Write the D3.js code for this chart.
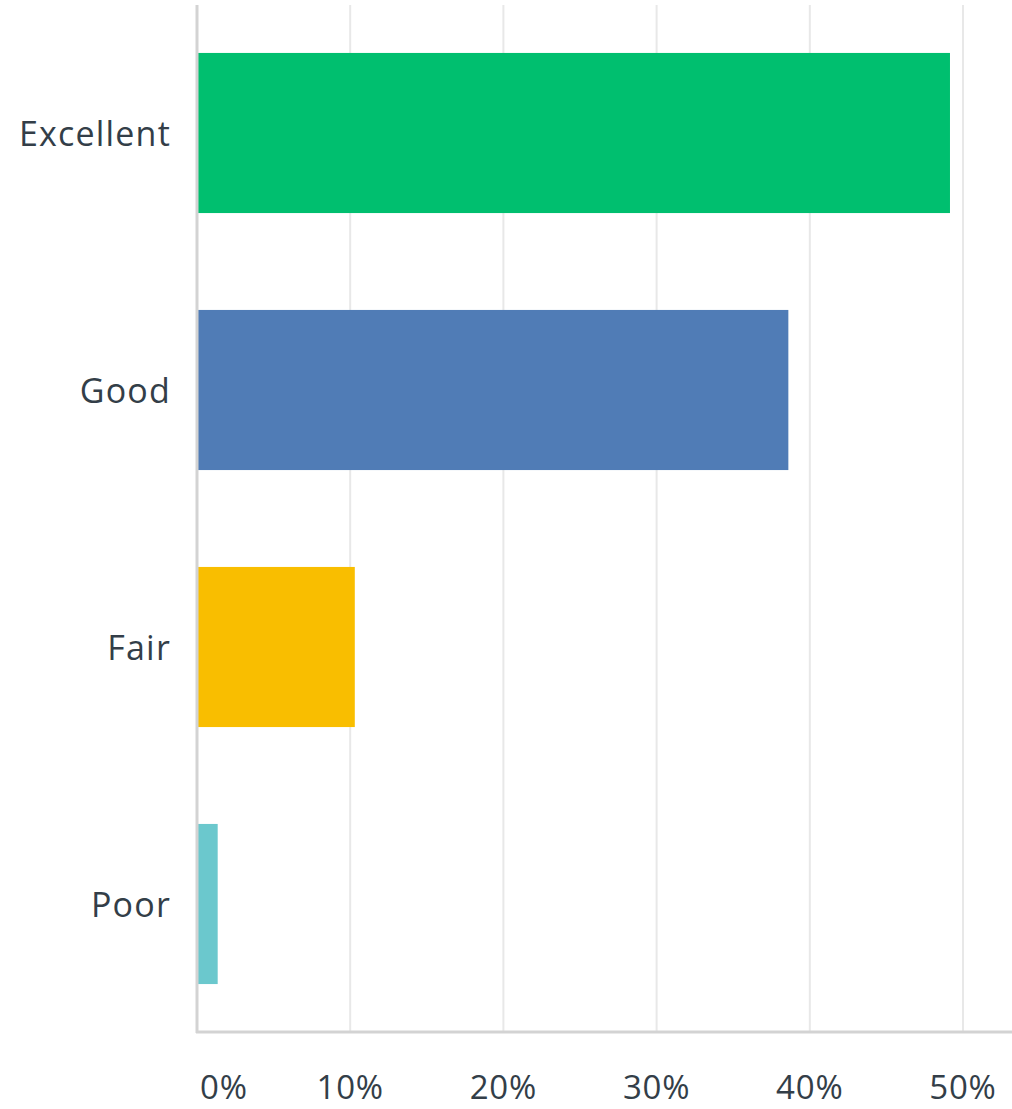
<!DOCTYPE html>
<html><head><meta charset="utf-8">
<script src="https://cdn.jsdelivr.net/npm/d3@7"></script>
<style>body{margin:0;background:#fff;} text{font-family:"Open Sans",sans-serif;fill:#333e48;}</style>
</head><body>
<svg id="c" width="1012" height="1109"></svg>
<script>
const categories = ["Excellent","Good","Fair","Poor"];
const values = [49.15, 38.6, 10.3, 1.35];
const colors = ["#00bf6f","#507cb6","#f9be00","#6bc8cd"];
const tickValues = [0,10,20,30,40,50];
const tickLabels = ["0%","10%","20%","30%","40%","50%"];

const svg = d3.select("#c");
const x = d3.scaleLinear().domain([0,50]).range([197,963]);
const y = d3.scaleBand().domain(categories).range([4.5,1032.5]).paddingInner(0.377).paddingOuter(0.1885);

// grid
svg.append("g").selectAll("line").data(tickValues.slice(1)).join("line")
  .attr("x1",d=>x(d)).attr("x2",d=>x(d)).attr("y1",5).attr("y2",1032)
  .attr("stroke","#e8e8e8").attr("stroke-width",2);

// bars
svg.append("g").selectAll("rect").data(categories).join("rect")
  .attr("x",x(0)+1).attr("y",d=>y(d))
  .attr("width",(d,i)=>x(values[i])-x(0)-1).attr("height",y.bandwidth())
  .attr("fill",(d,i)=>colors[i]);

// axes lines
svg.append("line").attr("x1",197).attr("x2",197).attr("y1",5).attr("y2",1033)
  .attr("stroke","#d3d3d3").attr("stroke-width",3);
svg.append("line").attr("x1",196).attr("x2",1012).attr("y1",1032).attr("y2",1032)
  .attr("stroke","#d3d3d3").attr("stroke-width",3);

// category labels
svg.append("g").selectAll("text").data(categories).join("text")
  .attr("x",171).attr("y",d=>y(d)+y.bandwidth()/2 + 13)
  .attr("text-anchor","end")
  .style("font-size","34px").style("letter-spacing","1.2px").text(d=>d);

// tick labels
svg.append("g").selectAll("text").data(tickValues).join("text")
  .attr("x",(d,i)=> i===0 ? x(d)+3 : x(d))
  .attr("y",1099)
  .attr("text-anchor",(d,i)=> i===0 ? "start":"middle")
  .style("font-size","33px").style("letter-spacing","0.8px").text((d,i)=>tickLabels[i]);
</script>
</body></html>
